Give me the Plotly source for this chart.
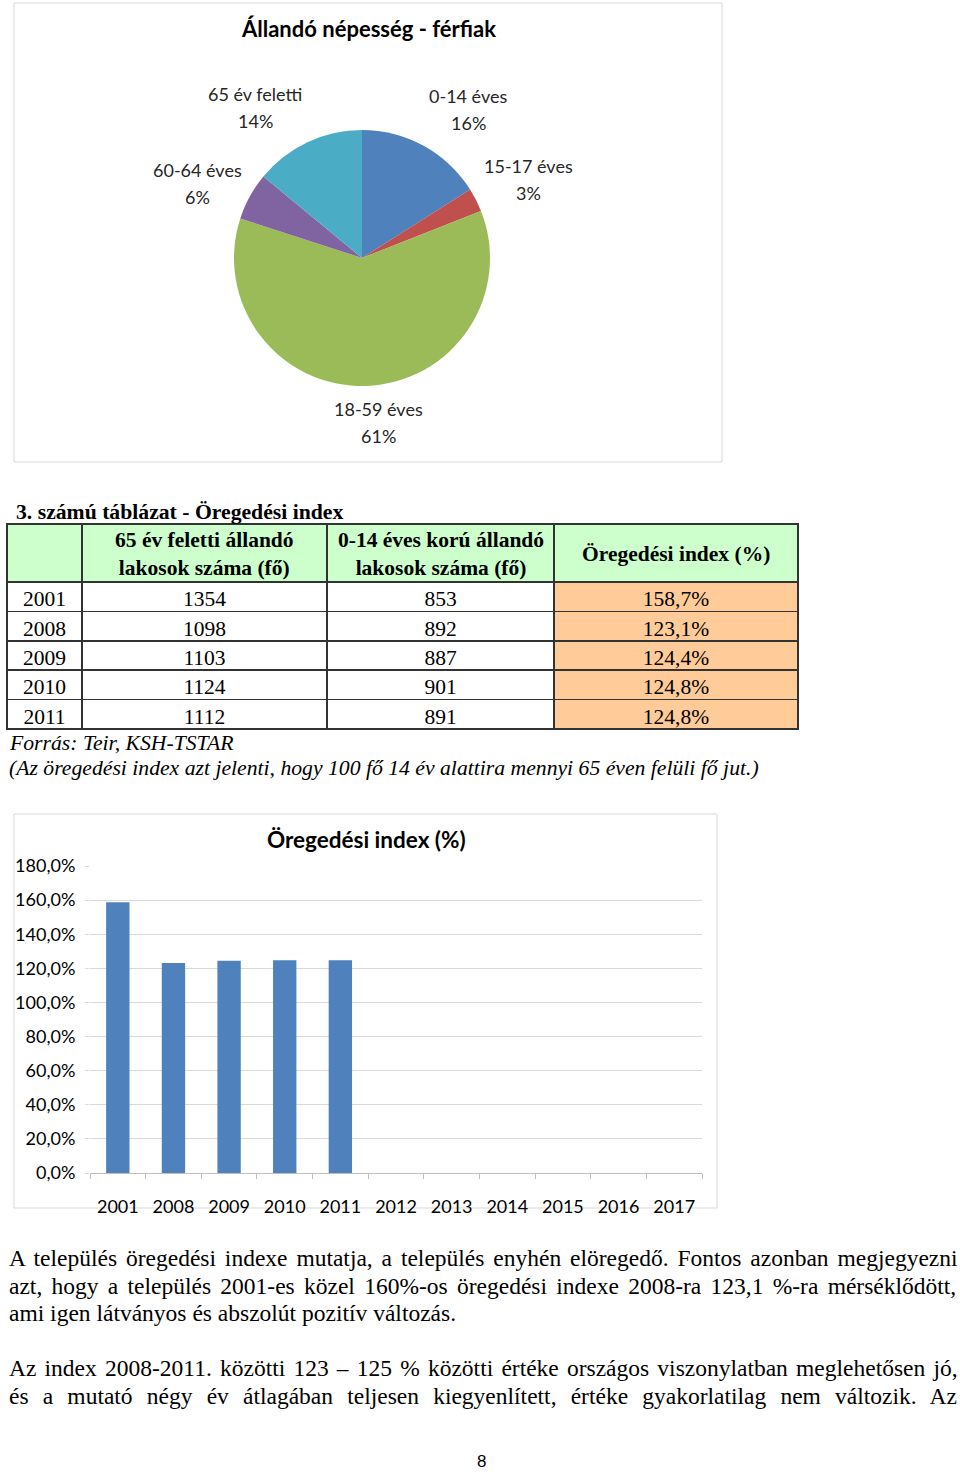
import plotly.graph_objects as go

W, H = 960, 1472

# ---------------- data ----------------
pie_title = "Állandó népesség - férfiak"
age_groups = ["0-14 éves", "15-17 éves", "18-59 éves", "60-64 éves", "65 év feletti"]
age_share = [16, 3, 61, 6, 14]
age_colors = ["#4F81BD", "#C0504D", "#9BBB59", "#8064A2", "#4BACC6"]

table_title = "3. számú táblázat - Öregedési index"
table_header = ["", "65 év feletti állandó<br>lakosok száma (fő)",
                "0-14 éves korú állandó<br>lakosok száma (fő)", "Öregedési index (%)"]
years = ["2001", "2008", "2009", "2010", "2011"]
over65 = [1354, 1098, 1103, 1124, 1112]
under15 = [853, 892, 887, 901, 891]
index_pct = [158.7, 123.1, 124.4, 124.8, 124.8]
source_note = "Forrás: Teir, KSH-TSTAR"
explain_note = "(Az öregedési index azt jelenti, hogy 100 fő 14 év alattira mennyi 65 éven felüli fő jut.)"

bar_title = "Öregedési index (%)"
bar_categories = ["2001", "2008", "2009", "2010", "2011", "2012", "2013", "2014", "2015", "2016", "2017"]
bar_values = index_pct + [None] * 6
y_ticks = [0, 20, 40, 60, 80, 100, 120, 140, 160, 180]

para_lines = [
    "A település öregedési indexe mutatja, a település enyhén elöregedő. Fontos azonban megjegyezni",
    "azt, hogy a település 2001-es közel 160%-os öregedési indexe 2008-ra 123,1 %-ra mérséklődött,",
    "ami igen látványos és abszolút pozitív változás.",
    "Az index 2008-2011. közötti 123 – 125 % közötti értéke országos viszonylatban meglehetősen jó,",
    "és a mutató négy év átlagában teljesen kiegyenlített, értéke gyakorlatilag nem változik. Az",
]
page_number = "8"


def px(x):
    return x / W


def py(y):
    return 1 - y / H


def fmt1(v):
    return f"{v:.1f}".replace(".", ",") + "%"


fig = go.Figure()

# ---------------- pie ----------------
fig.add_trace(go.Pie(
    labels=age_groups, values=age_share, sort=False, direction="clockwise", rotation=0,
    marker=dict(colors=age_colors, line=dict(color="white", width=0)),
    textinfo="none", hoverinfo="label+percent", showlegend=False,
    domain=dict(x=[px(234), px(490)], y=[py(386), py(130)]),
))

label_pos = {  # centre of the first label line, in page pixels
    "0-14 éves": (468, 96),
    "15-17 éves": (528, 166),
    "18-59 éves": (378, 409),
    "60-64 éves": (197, 170),
    "65 év feletti": (255, 94),
}
annotations = []
shapes = []
calibri = "Lato"


def ann(x, y, text, size, family, color="black", xanchor="center"):
    annotations.append(dict(x=px(x), y=py(y), text=text, showarrow=False, xref="paper", yref="paper",
                            font=dict(family=family, size=size, color=color),
                            xanchor=xanchor, yanchor="middle"))


for g, s in zip(age_groups, age_share):
    x, y = label_pos[g]
    ann(x, y, g, 18, calibri, "#262626")
    ann(x, y + 27, f"{s}%", 18, calibri, "#262626")
ann(368, 28, f"<b>{pie_title}</b>", 22, calibri)
shapes.append(dict(type="rect", xref="paper", yref="paper", x0=px(14), x1=px(722), y0=py(462), y1=py(3),
                   line=dict(color="#D9D9D9", width=1)))

# ---------------- table ----------------
serif = "Liberation Serif"
ann(14, 512, f"<b>{table_title}</b>", 21.7, serif, xanchor="left")

col_edges = [7, 82, 327, 554, 798]
col_w = [b - a for a, b in zip(col_edges[:-1], col_edges[1:])]
fig.add_trace(go.Table(
    domain=dict(x=[px(col_edges[0]), px(col_edges[-1])], y=[py(736), py(524)]),
    columnwidth=col_w,
    header=dict(values=[""] * len(table_header),
                fill_color="#CCFFCC", line=dict(color="#333333", width=1.5),
                font=dict(family=serif, size=21.5, color="black"), align="center", height=58),
    cells=dict(values=[years, over65, under15, [fmt1(v) for v in index_pct]],
               fill_color=[["white"] * 5, ["white"] * 5, ["white"] * 5, ["#FFCC99"] * 5],
               line=dict(color="#333333", width=1.5),
               font=dict(family=serif, size=21.5, color="black"), align="center", height=29.4),
))
for i, h in enumerate(table_header):
    if h:
        cx = (col_edges[i] + col_edges[i + 1]) / 2
        ann(cx, 554, f"<b>{h}</b>", 21.5, serif)

ann(7, 743, f"<i>{source_note}</i>", 21.7, serif, xanchor="left")
ann(7, 768, f"<i>{explain_note}</i>", 21.7, serif, xanchor="left")

# ---------------- bar chart ----------------
fig.add_trace(go.Bar(x=bar_categories, y=bar_values, marker=dict(color="#4F81BD", line=dict(width=0)),
                     width=0.42, showlegend=False, xaxis="x", yaxis="y"))

fig.update_layout(
    xaxis=dict(domain=[px(90), px(702)], anchor="y", type="category", categoryorder="array",
               categoryarray=bar_categories, showgrid=False, showline=True, linecolor="#BFBFBF",
               ticks="outside", tickson="boundaries", ticklen=5, tickcolor="#BFBFBF",
               tickfont=dict(family=calibri, size=18, color="black"), ticklabelstandoff=17, zeroline=False),
    yaxis=dict(domain=[py(1173), py(866)], anchor="x", range=[0, 180], tickvals=y_ticks,
               ticktext=[fmt1(v) for v in y_ticks], showgrid=True, gridcolor="#D9D9D9", gridwidth=1,
               showline=False, ticks="outside", ticklen=4, tickcolor="#D9D9D9", zeroline=False,
               tickfont=dict(family=calibri, size=18, color="black"), ticklabelstandoff=6),
)
ann(366, 839, f"<b>{bar_title}</b>", 22.5, calibri)
shapes.append(dict(type="rect", xref="paper", yref="paper", x0=px(14), x1=px(717), y0=py(1208), y1=py(814),
                   line=dict(color="#D9D9D9", width=1), layer="below"))

# ---------------- paragraph text (justified via word spacing) ----------------
line_y = [1258, 1286, 1313, 1368, 1396]
word_gap = [3.0, 3.4, 0, 2.3, 8.3]
for t, y, g in zip(para_lines, line_y, word_gap):
    txt = f"<span style='word-spacing:{g}px'>{t}</span>" if g else t
    ann(7, y, txt, 23.5, serif, xanchor="left")
ann(481, 1461, page_number, 17, "Liberation Sans")

fig.update_layout(
    width=W, height=H, margin=dict(l=0, r=0, t=0, b=0, autoexpand=False), autosize=False,
    paper_bgcolor="white", plot_bgcolor="white", separators=", ",
    annotations=annotations, shapes=shapes, showlegend=False, bargap=0.58,
)

fig.write_html("out.html", config={"displayModeBar": False},
               post_script="document.body.style.margin='0';document.body.style.padding='0';")
